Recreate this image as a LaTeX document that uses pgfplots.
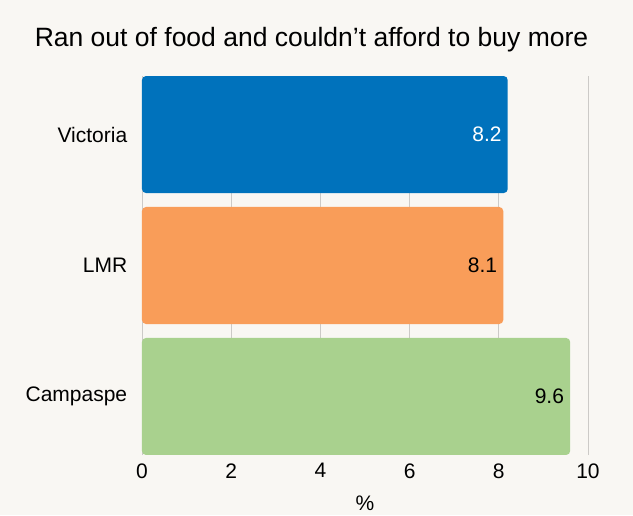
\documentclass[border=0pt]{standalone}
\usepackage{pgfplots}
\pgfplotsset{compat=1.18}
\usepackage{fontspec}
\setmainfont{Liberation Sans}
\definecolor{bg}{HTML}{F9F7F3}
\definecolor{vicblue}{HTML}{0072BC}
\definecolor{lmrorange}{HTML}{F99D59}
\definecolor{campgreen}{HTML}{A9D18E}
\definecolor{gridgray}{HTML}{CCCAC7}
\begin{document}
\begin{tikzpicture}
\fill[bg] (-142pt,-60pt) rectangle (491pt,455pt);
\useasboundingbox (-142pt,-60pt) rectangle (491pt,455pt);
\node[font=\fontsize{26.5}{30}\selectfont, anchor=base] at (169.5pt,408pt) {Ran out of food and couldn’t afford to buy more};
\begin{axis}[
  at={(0pt,0pt)}, anchor=south west,
  scale only axis, width=446pt, height=379pt,
  xmin=0, xmax=10, ymin=-0.447, ymax=2.447,
  xtick={0,2,4,6,8,10},
  ytick={0,1,2},
  yticklabels={Campaspe,LMR,Victoria},
  xmajorgrids=true, ymajorgrids=false,
  major grid style={draw=gridgray, line width=0.9pt},
  axis line style={draw=none},
  tick style={draw=none},
  tick label style={font=\fontsize{21}{25}\selectfont},
  /pgf/number format/assume math mode=true,
  yticklabel style={xshift=-7pt},
  xticklabel style={yshift=-5pt},
  xlabel={\%},
  every axis x label/.style={at={(axis description cs:0.5,0)}, anchor=center, yshift=-48pt, font=\fontsize{21}{25}\selectfont},
  xbar, bar width=117pt, bar shift=0pt,
  point meta=explicit symbolic,
  nodes near coords,
  every node near coord/.append style={anchor=east, inner sep=0pt, xshift=-6pt, font=\fontsize{21}{25}\selectfont},
]
\addplot[fill=vicblue, draw=none, rounded corners=4pt, nodes near coords style={text=white}] coordinates {(8.2,2) [8.2]};
\addplot[fill=lmrorange, draw=none, rounded corners=4pt, nodes near coords style={text=black}] coordinates {(8.1,1) [8.1]};
\addplot[fill=campgreen, draw=none, rounded corners=4pt, nodes near coords style={text=black}] coordinates {(9.6,0) [9.6]};
\end{axis}
\end{tikzpicture}
\end{document}
